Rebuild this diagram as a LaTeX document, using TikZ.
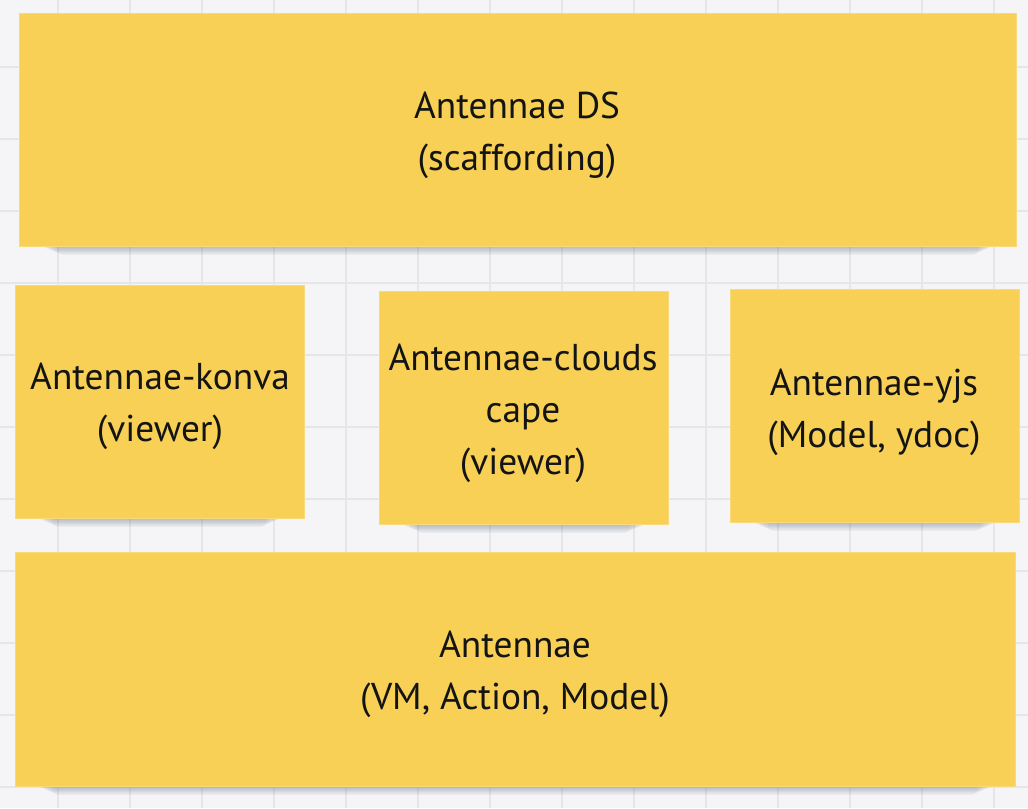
\documentclass[tikz,border=0pt]{standalone}
\usepackage{fontspec}
\setmainfont{PT Sans}
\begin{document}
\begin{tikzpicture}[x=0.75pt,y=-0.75pt,
  note/.style={fill=noteyellow,draw=noteedge,line width=0.6pt},
  notetext/.style={align=center,text=notetextc,font=\fontsize{28pt}{39pt}\selectfont,inner sep=0pt}]
\definecolor{bgc}{HTML}{F5F5F7}
\definecolor{gridc}{HTML}{E6E6E9}
\definecolor{noteyellow}{HTML}{F7D055}
\definecolor{noteedge}{HTML}{F8DA7A}
\definecolor{notetextc}{HTML}{141414}
\definecolor{shadowc}{HTML}{4A5068}
\fill[bgc] (0,0) rectangle (1028,808);
\useasboundingbox (0,0) rectangle (1028,808);
% grid
\foreach \gx in {0,...,13} \draw[gridc,line width=1.3pt] ({58+72*\gx},0) -- ({58+72*\gx},808);
\foreach \gy in {1,...,11} \draw[gridc,line width=1.3pt] (0,{-5.3+72*\gy}) -- (1028,{-5.3+72*\gy});
% shadows
\newcommand{\notesh}[3]{%
  \foreach \k in {1,...,6}{
    \fill[shadowc,opacity=0.06,rounded corners=4pt] ({#1+20+3*\k},{#3-6}) rectangle ({#2-20-3*\k},{#3+1+1.3*\k});
  }}
\notesh{19}{1016}{246}
\notesh{15}{304}{518}
\notesh{379}{668}{524}
\notesh{730}{1019}{522}
\notesh{15}{1015}{786}
% notes
\draw[note] (19,13) rectangle (1016,246);
\node[notetext] (ds) at (517,135) {Antennae DS\\(scaffording)};
\draw[note] (15,285) rectangle (304,518);
\node[notetext] (konva) at (160,406) {Antennae-konva\\(viewer)};
\draw[note] (379,291) rectangle (668,524);
\node[notetext] (clouds) at (523,413) {Antennae-clouds\\cape\\(viewer)};
\draw[note] (730,289) rectangle (1019,522);
\node[notetext] (yjs) at (874,412) {Antennae-yjs\\(Model, ydoc)};
\draw[note] (15,552) rectangle (1015,786);
\node[notetext] (core) at (515,674) {Antennae\\(VM, Action, Model)};
\end{tikzpicture}
\end{document}
